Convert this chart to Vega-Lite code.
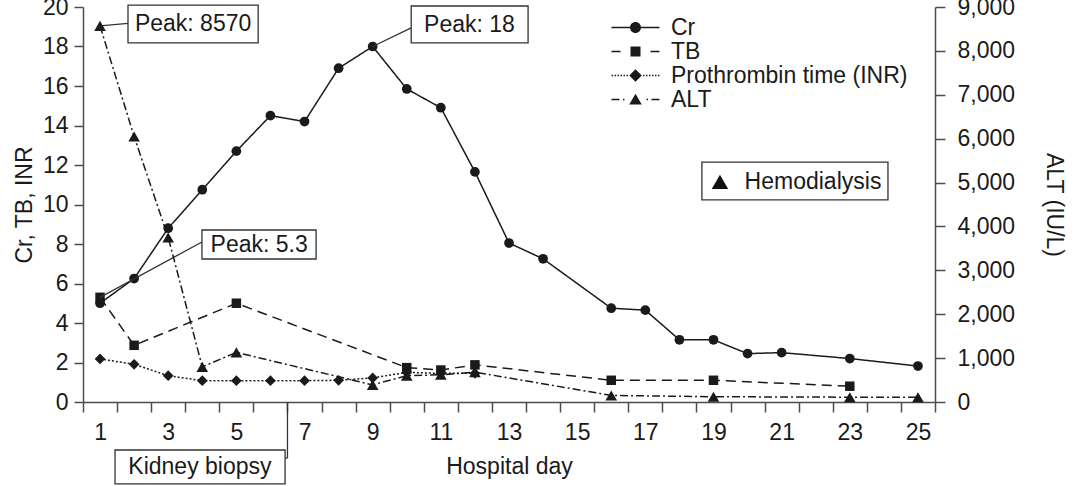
{
  "$schema": "https://vega.github.io/schema/vega-lite/v6.json",
  "width": 852,
  "height": 395,
  "autosize": {"type": "none"},
  "padding": {"left": 83, "top": 7, "right": 157, "bottom": 84},
  "background": "white",
  "config": {
    "font": "Liberation Sans",
    "view": {"stroke": null},
    "axis": {
      "domainColor": "#4d4d4d", "domainWidth": 1.5, "tickColor": "#4d4d4d", "tickWidth": 1.5,
      "labelColor": "#1a1a1a", "titleColor": "#1a1a1a", "labelFontSize": 23, "titleFontSize": 23,
      "titleFontWeight": "normal", "grid": false, "labelFont": "Liberation Sans", "titleFont": "Liberation Sans"
    }
  },
  "datasets": {
    "main": [
      {"series": "Cr", "day": 1, "value": 5.0}, {"series": "Cr", "day": 2, "value": 6.25}, {"series": "Cr", "day": 3, "value": 8.8},
      {"series": "Cr", "day": 4, "value": 10.75}, {"series": "Cr", "day": 5, "value": 12.7}, {"series": "Cr", "day": 6, "value": 14.5},
      {"series": "Cr", "day": 7, "value": 14.2}, {"series": "Cr", "day": 8, "value": 16.9}, {"series": "Cr", "day": 9, "value": 18.0},
      {"series": "Cr", "day": 10, "value": 15.85}, {"series": "Cr", "day": 11, "value": 14.9}, {"series": "Cr", "day": 12, "value": 11.65},
      {"series": "Cr", "day": 13, "value": 8.05}, {"series": "Cr", "day": 14, "value": 7.25}, {"series": "Cr", "day": 16, "value": 4.75},
      {"series": "Cr", "day": 17, "value": 4.65}, {"series": "Cr", "day": 18, "value": 3.15}, {"series": "Cr", "day": 19, "value": 3.15},
      {"series": "Cr", "day": 20, "value": 2.45}, {"series": "Cr", "day": 21, "value": 2.5}, {"series": "Cr", "day": 23, "value": 2.2},
      {"series": "Cr", "day": 25, "value": 1.82},
      {"series": "TB", "day": 1, "value": 5.3}, {"series": "TB", "day": 2, "value": 2.87}, {"series": "TB", "day": 5, "value": 5.0},
      {"series": "TB", "day": 10, "value": 1.74}, {"series": "TB", "day": 11, "value": 1.62}, {"series": "TB", "day": 12, "value": 1.88},
      {"series": "TB", "day": 16, "value": 1.1}, {"series": "TB", "day": 19, "value": 1.1}, {"series": "TB", "day": 23, "value": 0.8},
      {"series": "Prothrombin time (INR)", "day": 1, "value": 2.18}, {"series": "Prothrombin time (INR)", "day": 2, "value": 1.91},
      {"series": "Prothrombin time (INR)", "day": 3, "value": 1.33}, {"series": "Prothrombin time (INR)", "day": 4, "value": 1.08},
      {"series": "Prothrombin time (INR)", "day": 5, "value": 1.08}, {"series": "Prothrombin time (INR)", "day": 6, "value": 1.08},
      {"series": "Prothrombin time (INR)", "day": 7, "value": 1.08}, {"series": "Prothrombin time (INR)", "day": 8, "value": 1.1},
      {"series": "Prothrombin time (INR)", "day": 9, "value": 1.22}, {"series": "Prothrombin time (INR)", "day": 10, "value": 1.5},
      {"series": "Prothrombin time (INR)", "day": 11, "value": 1.45}, {"series": "Prothrombin time (INR)", "day": 12, "value": 1.45},
      {"series": "ALT", "day": 1, "value": 8570}, {"series": "ALT", "day": 2, "value": 6050}, {"series": "ALT", "day": 3, "value": 3750},
      {"series": "ALT", "day": 4, "value": 800}, {"series": "ALT", "day": 5, "value": 1130}, {"series": "ALT", "day": 9, "value": 390},
      {"series": "ALT", "day": 10, "value": 600}, {"series": "ALT", "day": 11, "value": 620}, {"series": "ALT", "day": 12, "value": 680},
      {"series": "ALT", "day": 16, "value": 150}, {"series": "ALT", "day": 19, "value": 120}, {"series": "ALT", "day": 23, "value": 110},
      {"series": "ALT", "day": 25, "value": 110}
    ],
    "hemodialysis": [
      {"day": 11.5}, {"day": 12.5}, {"day": 14.5}, {"day": 17.5}, {"day": 19.5}
    ],
    "boxes": [
      {"name": "Peak: 8570", "day": 1.82, "day2": 5.64, "value": 20.1, "value2": 18.18, "tx": 3.73, "ty": 19.14},
      {"name": "Peak: 18", "day": 10.13, "day2": 13.56, "value": 20.05, "value2": 18.18, "tx": 11.84, "ty": 19.11},
      {"name": "Peak: 5.3", "day": 3.99, "day2": 7.34, "value": 8.71, "value2": 7.24, "tx": 5.67, "ty": 7.97},
      {"name": "Kidney biopsy", "day": 1.44, "day2": 6.43, "value": -2.43, "value2": -4.15, "tx": 3.93, "ty": -3.3},
      {"name": "Hemodialysis", "day": 18.66, "day2": 24.12, "value": 12.15, "value2": 10.23, "tx": 21.92, "ty": 11.14}
    ],
    "leaders": [
      {"day": 1, "value": 19.04, "day2": 1.82, "value2": 19.17},
      {"day": 9, "value": 18.0, "day2": 10.13, "value2": 18.94},
      {"day": 1, "value": 5.3, "day2": 3.99, "value2": 8.1},
      {"day": 6.5, "value": 0, "day2": 6.5, "value2": -2.84},
      {"day": 6.43, "value": -2.84, "day2": 6.5, "value2": -2.84}
    ],
    "hdkey": [
      {"day": 19.19, "value": 11.14}
    ]
  },
  "layer": [
    {
      "encoding": {
        "x": {
          "field": "day", "type": "quantitative",
          "scale": {"domain": [0.5, 25.5]},
          "axis": {
            "title": "Hospital day",
            "values": [0.5, 1.5, 2.5, 3.5, 4.5, 5.5, 6.5, 7.5, 8.5, 9.5, 10.5, 11.5, 12.5, 13.5, 14.5, 15.5, 16.5, 17.5, 18.5, 19.5, 20.5, 21.5, 22.5, 23.5, 24.5, 25.5],
            "labels": false,
            "tickSize": 10,
            "titlePadding": 43
          }
        },
        "y": {
          "field": "value", "type": "quantitative",
          "scale": {"domain": [0, 20], "nice": false, "zero": false},
          "axis": {"title": "Cr, TB, INR", "values": [0, 2, 4, 6, 8, 10, 12, 14, 16, 18, 20], "tickSize": 9, "labelPadding": 6, "titlePadding": 6}
        }
      },
      "layer": [
        {
          "data": {"name": "main"},
          "transform": [{"filter": "datum.series != 'ALT'"}],
          "mark": {"type": "line", "color": "#1a1a1a", "strokeWidth": 1.5},
          "encoding": {
            "strokeDash": {
              "field": "series", "type": "nominal", "legend": null,
              "scale": {"domain": ["TB", "Cr", "Prothrombin time (INR)", "ALT"], "range": [[10, 6], [1, 0], [2, 2], [8, 3, 2, 3]]}
            }
          }
        },
        {
          "data": {"name": "main"},
          "transform": [{"filter": "datum.series == 'Cr'"}],
          "mark": {"type": "point", "shape": "circle", "filled": true, "color": "#1a1a1a", "size": 95, "opacity": 1}
        },
        {
          "data": {"name": "main"},
          "transform": [{"filter": "datum.series == 'TB'"}],
          "mark": {"type": "point", "shape": "square", "filled": true, "color": "#1a1a1a", "size": 90, "opacity": 1}
        },
        {
          "data": {"name": "main"},
          "transform": [{"filter": "datum.series == 'Prothrombin time (INR)'"}],
          "mark": {"type": "point", "shape": "diamond", "filled": true, "color": "#1a1a1a", "size": 115, "opacity": 1}
        },
        {
          "data": {"name": "hemodialysis"},
          "mark": {"type": "point", "shape": "triangle-up", "filled": true, "color": "#111111", "size": 310, "opacity": 1},
          "encoding": {"y": {"datum": -0.46, "type": "quantitative"}}
        },
        {
          "data": {"name": "leaders"},
          "mark": {"type": "rule", "color": "#333333", "strokeWidth": 1.3},
          "encoding": {"x2": {"field": "day2"}, "y2": {"field": "value2"}}
        },
        {
          "data": {"name": "boxes"},
          "mark": {"type": "rect", "fill": "white", "stroke": "#333333", "strokeWidth": 1.3},
          "encoding": {"x2": {"field": "day2"}, "y2": {"field": "value2"}}
        },
        {
          "data": {"name": "boxes"},
          "mark": {"type": "text", "fontSize": 23, "color": "#1a1a1a", "align": "center", "baseline": "middle", "font": "Liberation Sans"},
          "encoding": {
            "x": {"field": "tx", "type": "quantitative"},
            "y": {"field": "ty", "type": "quantitative"},
            "text": {"field": "name"}
          }
        },
        {
          "data": {"name": "hdkey"},
          "mark": {"type": "point", "shape": "triangle-up", "filled": true, "color": "#111111", "size": 270, "opacity": 1}
        },
        {
          "data": {"name": "main"},
          "transform": [{"filter": "false"}],
          "mark": {"type": "point", "filled": true, "color": "#1a1a1a"},
          "encoding": {
            "shape": {
              "field": "series", "type": "nominal",
              "scale": {
                "domain": ["Cr", "TB", "Prothrombin time (INR)", "ALT"],
                "range": [
                  "M-4.8,-0.15H-1.1V0.15H-4.8ZM1.1,-0.15H4.8V0.15H1.1ZM-1.1,0A1.1,1.1,0,1,0,1.1,0A1.1,1.1,0,1,0,-1.1,0Z",
                  "M-4.8,-0.15H-3V0.15H-4.8ZM3,-0.15H4.8V0.15H3ZM-1,-1H1V1H-1Z",
                  "M-4.8,-0.15H-4.5V0.15H-4.8ZM-4.2,-0.15H-3.9V0.15H-4.2ZM-3.6,-0.15H-3.3V0.15H-3.6ZM-3,-0.15H-2.7V0.15H-3ZM-2.4,-0.15H-2.1V0.15H-2.4ZM-1.8,-0.15H-1.5V0.15H-1.8ZM1.5,-0.15H1.8V0.15H1.5ZM2.1,-0.15H2.4V0.15H2.1ZM2.7,-0.15H3V0.15H2.7ZM3.3,-0.15H3.6V0.15H3.3ZM3.9,-0.15H4.2V0.15H3.9ZM4.5,-0.15H4.8V0.15H4.5ZM0,-1.25L1.25,0L0,1.25L-1.25,0Z",
                  "M-4.8,-0.15H-3.2V0.15H-4.8ZM-2.5,-0.15H-2.2V0.15H-2.5ZM0,-1.15L1.25,1L-1.25,1ZM2.2,-0.15H2.5V0.15H2.2ZM3.2,-0.15H4.8V0.15H3.2Z"
                ]
              },
              "legend": {
                "title": null, "orient": "none", "legendX": 541, "legendY": 9,
                "symbolSize": 100, "symbolFillColor": "#1a1a1a", "symbolStrokeColor": "#1a1a1a", "symbolStrokeWidth": 0,
                "symbolOpacity": 1, "labelFontSize": 23, "labelOffset": 24, "labelColor": "#1a1a1a", "labelFont": "Liberation Sans",
                "rowPadding": 0, "labelLimit": 400
              }
            }
          }
        }
      ]
    },
    {
      "data": {"name": "main"},
      "transform": [{"filter": "datum.series == 'ALT'"}],
      "encoding": {
        "x": {
          "field": "day", "type": "quantitative",
          "scale": {"domain": [0.5, 25.5]},
          "axis": {
            "orient": "bottom",
            "title": null,
            "values": [1, 3, 5, 7, 9, 11, 13, 15, 17, 19, 21, 23, 25],
            "format": "d",
            "domain": false,
            "tickOpacity": 0,
            "tickSize": 10,
            "labelPadding": 9,
            "labelOverlap": false,
            "labelFlush": false
          }
        },
        "y": {
          "field": "value", "type": "quantitative",
          "scale": {"domain": [0, 9000], "nice": false},
          "axis": {"orient": "right", "title": "ALT (IU/L)", "values": [0, 1000, 2000, 3000, 4000, 5000, 6000, 7000, 8000, 9000], "format": ",.0f", "tickSize": 10, "labelPadding": 12, "titlePadding": 27}
        }
      },
      "layer": [
        {
          "mark": {"type": "line", "color": "#1a1a1a", "strokeWidth": 1.5},
          "encoding": {
            "strokeDash": {
              "field": "series", "type": "nominal", "legend": null,
              "scale": {"domain": ["TB", "Cr", "Prothrombin time (INR)", "ALT"], "range": [[10, 6], [1, 0], [2, 2], [8, 3, 2, 3]]}
            }
          }
        },
        {
          "mark": {"type": "point", "shape": "triangle-up", "filled": true, "color": "#1a1a1a", "size": 135, "opacity": 1}
        }
      ]
    }
  ],
  "resolve": {"scale": {"y": "independent"}, "axis": {"x": "independent"}}
}
